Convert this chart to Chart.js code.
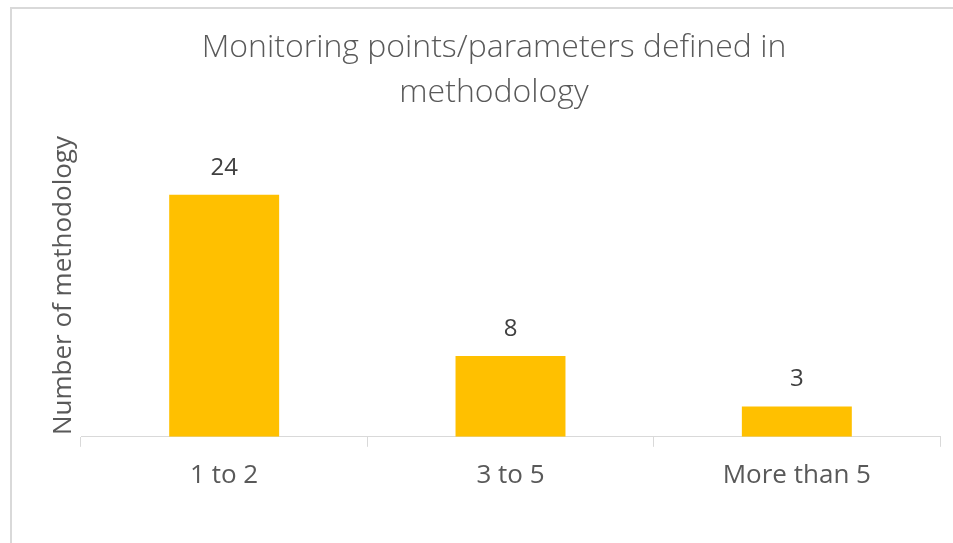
<!DOCTYPE html>
<html>
<head>
<meta charset="utf-8">
<script src="https://cdn.jsdelivr.net/npm/chart.js@4"></script>
<style>
  html, body { margin: 0; padding: 0; background: #fff; }
  #wrap { position: relative; width: 953px; height: 543px; overflow: hidden; }
  #frame { position: absolute; left: 10px; top: 7px; width: 960px; height: 560px;
           border-top: 2px solid #d9d9d9; border-left: 2px solid #d9d9d9; }
  canvas { position: absolute; left: 0; top: 0; }
</style>
</head>
<body>
<div id="wrap">
  <div id="frame"></div>
  <canvas id="c" width="953" height="543"></canvas>
</div>
<script>
const categories = ["1 to 2", "3 to 5", "More than 5"];
const counts = [24, 8, 3];
const titleLines = ["Monitoring points/parameters defined in", "methodology"];
const yAxisTitle = "Number of methodology";
const yMax = 30;

const FONT = "'Open Sans', 'Noto Sans', sans-serif";

const valueLabels = {
  id: 'valueLabels',
  afterDatasetsDraw(chart) {
    const ctx = chart.ctx;
    const meta = chart.getDatasetMeta(0);
    ctx.save();
    ctx.font = "24px " + FONT;
    ctx.fillStyle = "#404040";
    ctx.textAlign = "center";
    ctx.textBaseline = "middle";
    meta.data.forEach((el, i) => {
      ctx.fillText(String(counts[i]), el.x, el.y - 27);
    });
    ctx.restore();
  }
};

new Chart(document.getElementById('c'), {
  type: 'bar',
  data: {
    labels: categories,
    datasets: [{
      data: counts,
      backgroundColor: '#FFC000',
      borderWidth: 0,
      categoryPercentage: 1.0,
      barPercentage: 0.384
    }]
  },
  options: {
    responsive: false,
    animation: false,
    devicePixelRatio: 1,
    layout: { padding: { left: 48, right: 13, top: 0, bottom: 39 } },
    plugins: {
      legend: { display: false },
      tooltip: { enabled: false },
      title: {
        display: true,
        text: titleLines,
        color: '#595959',
        font: { family: FONT, size: 32, weight: '300', lineHeight: 1.41 },
        padding: { top: 25.5, bottom: 18.5 }
      }
    },
    scales: {
      x: {
        grid: { display: true, drawOnChartArea: false, drawTicks: true, tickLength: 10, color: '#d9d9d9', offset: true },
        border: { display: true, color: '#d9d9d9', width: 1 },
        ticks: { color: '#595959', font: { family: FONT, size: 26 }, padding: 13, maxRotation: 0 }
      },
      y: {
        min: 0,
        max: yMax,
        grid: { display: false },
        border: { display: false },
        ticks: { display: false },
        title: {
          display: true,
          text: yAxisTitle,
          color: '#595959',
          font: { family: FONT, size: 26 },
          padding: 0
        },
        afterFit(scale) { scale.width = 33; }
      }
    }
  },
  plugins: [valueLabels]
});
</script>
</body>
</html>
